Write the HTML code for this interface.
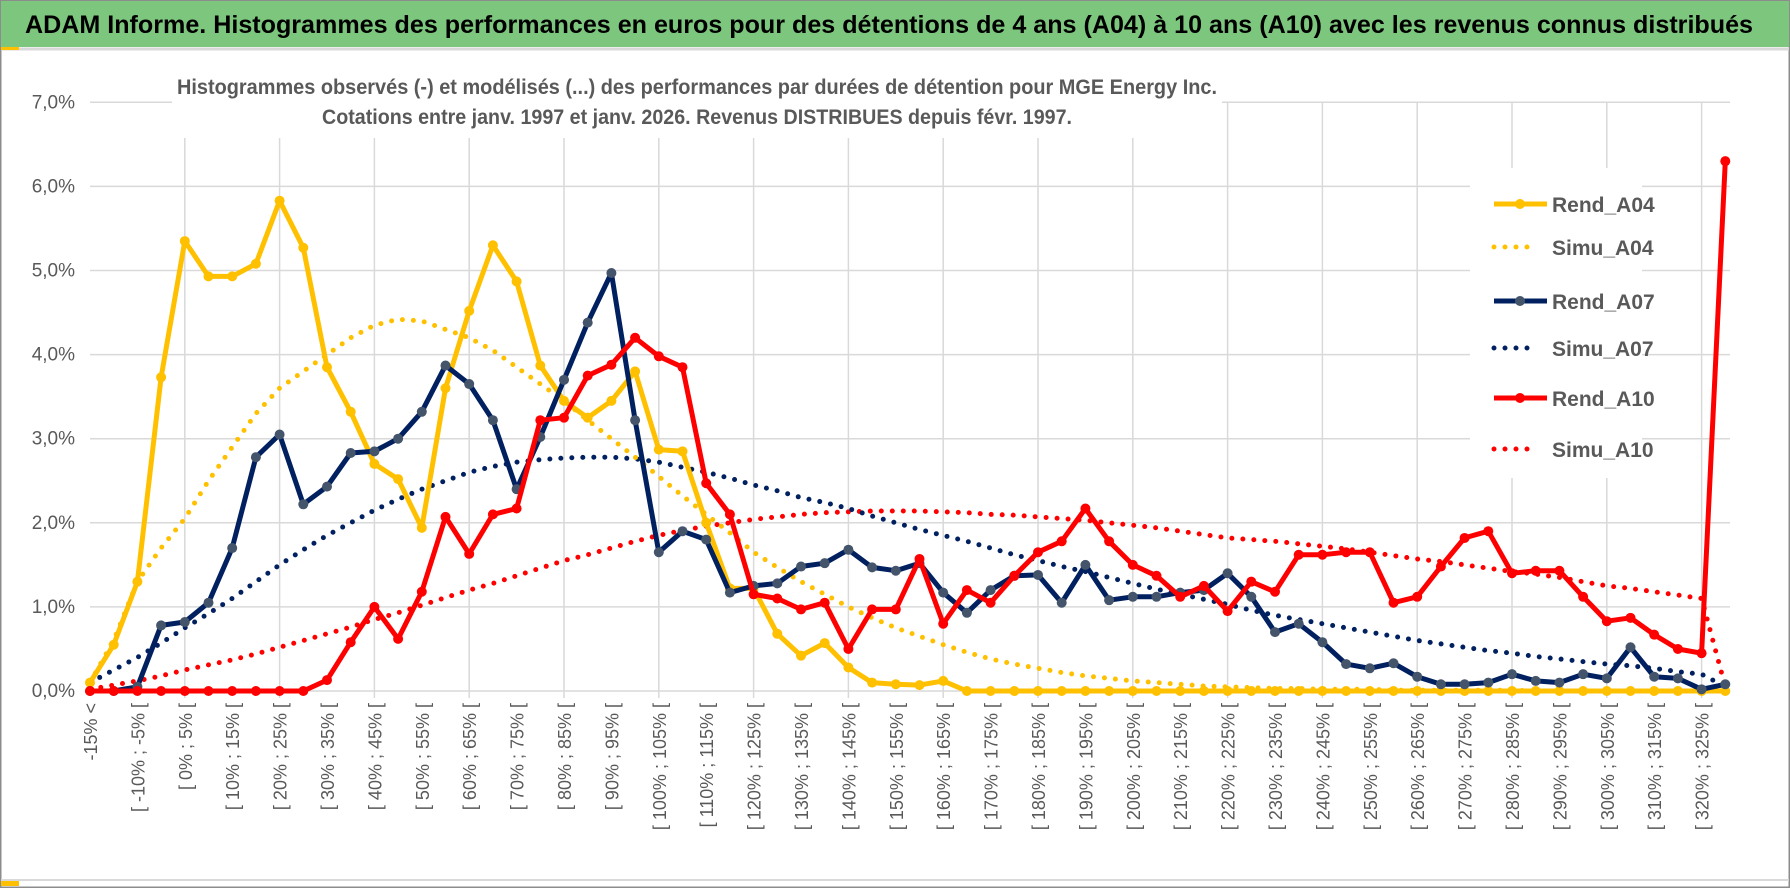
<!DOCTYPE html>
<html><head><meta charset="utf-8"><style>
html,body{margin:0;padding:0;background:#fff}
svg{display:block}
</style></head><body>
<svg id="chart" width="1790" height="888" viewBox="0 0 1790 888" xmlns="http://www.w3.org/2000/svg">
<rect x="0" y="0" width="1790" height="888" fill="#fff"/>
<rect x="0.5" y="0.5" width="1789" height="887" fill="none" stroke="#8c8c8c" stroke-width="2"/>
<rect x="1" y="1" width="1788" height="46" fill="#7dc67d"/>
<line x1="1" y1="49" x2="1789" y2="49" stroke="#d9d9d9" stroke-width="3"/>
<rect x="1" y="47" width="18" height="3" fill="#ffc000"/>
<text x="25" y="33" font-family="'Liberation Sans Narrow','Liberation Sans',sans-serif" font-weight="bold" font-size="25" fill="#000" textLength="1728" lengthAdjust="spacingAndGlyphs">ADAM Informe. Histogrammes des performances en euros pour des détentions de 4 ans (A04) à 10 ans (A10) avec les revenus connus distribués</text>
<line x1="1" y1="880" x2="1789" y2="880" stroke="#d9d9d9" stroke-width="2"/>
<rect x="1" y="881" width="18" height="5" fill="#ffc000"/>
<g id="grid"></g>
<g id="series"></g>
<g id="axes"></g>
<rect x="172" y="68" width="1050" height="70" fill="#fff"/>
<text x="697" y="94" text-anchor="middle" font-family="'Liberation Sans Narrow','Liberation Sans',sans-serif" font-weight="bold" font-size="21" fill="#595959" textLength="1040" lengthAdjust="spacingAndGlyphs">Histogrammes observés (-) et modélisés (...) des performances par durées de détention pour MGE Energy Inc.</text>
<text x="697" y="124" text-anchor="middle" font-family="'Liberation Sans Narrow','Liberation Sans',sans-serif" font-weight="bold" font-size="21" fill="#595959" textLength="750" lengthAdjust="spacingAndGlyphs">Cotations entre janv. 1997 et janv. 2026. Revenus DISTRIBUES depuis févr. 1997.</text>
<g id="legend"></g>
</svg>
<script>
const categories = (function(){const c=["-15% <","[ -15% ; -10% ["];for(let v=-10;v<=325;v+=5){c.push("[ "+v+"% ; "+(v+5)+"% [");}return c.slice(0,70);})();
const yTicks = [0,1,2,3,4,5,6,7];
const yTickLabels = ["0,0%","1,0%","2,0%","3,0%","4,0%","5,0%","6,0%","7,0%"];
const rendA04 = [0.1,0.55,1.3,3.73,5.35,4.93,4.93,5.08,5.83,5.27,3.85,3.32,2.7,2.52,1.94,3.6,4.52,5.3,4.87,3.87,3.45,3.25,3.45,3.8,2.87,2.85,2.0,1.22,1.22,0.68,0.42,0.57,0.28,0.1,0.08,0.07,0.12,0,0,0,0,0,0,0,0,0,0,0,0,0,0,0,0,0,0,0,0,0,0,0,0,0,0,0,0,0,0,0,0,0];
const simuA04 = [0.1,0.6,1.3,1.7,2.05,2.5,2.9,3.3,3.6,3.8,4.0,4.2,4.35,4.42,4.4,4.3,4.2,4.05,3.85,3.65,3.45,3.22,3.0,2.78,2.55,2.32,2.1,1.88,1.65,1.47,1.3,1.15,1.0,0.87,0.75,0.65,0.55,0.46,0.38,0.32,0.27,0.22,0.18,0.15,0.12,0.1,0.08,0.06,0.05,0.04,0.03,0.03,0.02,0.02,0.02,0.01,0.01,0.01,0.01,0.01,0.01,0,0,0,0,0,0,0,0,0];
const rendA07 = [0,0,0.05,0.78,0.82,1.05,1.7,2.78,3.05,2.22,2.43,2.83,2.85,3.0,3.32,3.87,3.65,3.22,2.4,3.02,3.7,4.38,4.97,3.22,1.65,1.9,1.8,1.17,1.25,1.28,1.48,1.52,1.68,1.47,1.43,1.52,1.17,0.93,1.2,1.37,1.38,1.05,1.5,1.08,1.12,1.12,1.17,1.2,1.4,1.12,0.7,0.8,0.58,0.32,0.27,0.33,0.17,0.08,0.08,0.1,0.2,0.12,0.1,0.2,0.15,0.52,0.17,0.15,0.02,0.08];
const simuA07 = [0.1,0.25,0.4,0.57,0.75,0.92,1.1,1.3,1.5,1.68,1.85,2.0,2.15,2.28,2.4,2.5,2.6,2.67,2.72,2.75,2.77,2.78,2.78,2.76,2.72,2.66,2.6,2.53,2.45,2.38,2.3,2.24,2.17,2.08,2.0,1.92,1.85,1.78,1.7,1.62,1.55,1.48,1.42,1.35,1.28,1.21,1.15,1.09,1.03,0.96,0.9,0.85,0.8,0.75,0.7,0.65,0.6,0.56,0.52,0.48,0.45,0.41,0.38,0.35,0.32,0.3,0.27,0.23,0.2,0.05];
const rendA10 = [0,0,0,0,0,0,0,0,0,0,0.13,0.58,1.0,0.62,1.18,2.07,1.63,2.1,2.17,3.22,3.25,3.75,3.88,4.2,3.98,3.85,2.47,2.1,1.15,1.1,0.97,1.05,0.5,0.97,0.97,1.57,0.8,1.2,1.05,1.37,1.65,1.78,2.17,1.78,1.5,1.37,1.12,1.25,0.95,1.3,1.18,1.62,1.62,1.65,1.65,1.05,1.12,1.48,1.82,1.9,1.4,1.43,1.43,1.12,0.83,0.87,0.67,0.5,0.45,6.3];
const simuA10 = [0.02,0.07,0.12,0.18,0.25,0.31,0.37,0.44,0.52,0.6,0.68,0.76,0.85,0.93,1.02,1.11,1.2,1.28,1.37,1.46,1.55,1.62,1.7,1.78,1.85,1.91,1.96,2.0,2.04,2.07,2.1,2.12,2.13,2.14,2.14,2.14,2.13,2.12,2.1,2.09,2.07,2.05,2.03,2.0,1.97,1.94,1.9,1.86,1.82,1.8,1.78,1.75,1.72,1.69,1.65,1.61,1.57,1.54,1.5,1.46,1.42,1.39,1.35,1.3,1.25,1.22,1.18,1.14,1.1,0.05];

const NS="http://www.w3.org/2000/svg";
const X0=90, STEP=23.7, Y0=691, YU=84.1, XR=1730;
function xs(i){return X0+STEP*i;}
function ys(v){return Y0-YU*v;}
function mk(tag,attrs,parent){const e=document.createElementNS(NS,tag);for(const k in attrs)e.setAttribute(k,attrs[k]);parent.appendChild(e);return e;}
const grid=document.getElementById('grid'), axes=document.getElementById('axes'), ser=document.getElementById('series'), leg=document.getElementById('legend');

yTicks.forEach((t,k)=>{
  const l=mk('line',{x1:X0,x2:XR,y1:ys(t),y2:ys(t),stroke:'#d9d9d9','stroke-width':1.5},grid);
  
  
  const tx=mk('text',{x:75,y:ys(t)+6,'text-anchor':'end','font-family':"'Liberation Sans Narrow','Liberation Sans',sans-serif",'font-size':19,fill:'#595959'},axes);
  tx.textContent=yTickLabels[k];
  
  
});
for(let i=4;i<categories.length;i+=4){
  const l=mk('line',{x1:xs(i),x2:xs(i),y1:ys(7),y2:Y0+7,stroke:'#d9d9d9','stroke-width':1.5},grid);
  
  
}
categories.forEach((c,i)=>{
  if(i%2===1) return;
  const x=xs(i)+7, y=Y0+12;
  const tx=mk('text',{x:x,y:y,transform:'rotate(-90 '+x+' '+y+')','text-anchor':'end','font-family':"'Liberation Sans','DejaVu Sans',sans-serif",'font-size':18,fill:'#595959'},axes);
  tx.textContent=c;
  
  
});

function pts(arr){return arr.map((v,i)=>xs(i).toFixed(1)+','+ys(v).toFixed(1)).join(' ');}
function dotted(arr,color,name){
  const p=mk('polyline',{points:pts(arr),fill:'none',stroke:color,'stroke-width':5,'stroke-linecap':'round','stroke-dasharray':'0 11'},ser);
  
  
}
function solid(arr,color,mcolor,name){
  const g=mk('g',{},ser);
  
  
  mk('polyline',{points:pts(arr),fill:'none',stroke:color,'stroke-width':5,'stroke-linejoin':'round'},g);
  arr.forEach((v,i)=>{
    const c=mk('circle',{cx:xs(i),cy:ys(v),r:5,fill:mcolor},g);
    
    
  });
}
dotted(simuA10,'#ff0000','simu-a10-line');
dotted(simuA07,'#002060','simu-a07-line');
dotted(simuA04,'#ffc000','simu-a04-line');
solid(rendA04,'#ffc000','#ffc000','rend-a04-line');
solid(rendA07,'#002060','#44546a','rend-a07-line');
solid(rendA10,'#ff0000','#ff0000','rend-a10-line');

const lg=[["Rend_A04",'#ffc000','#ffc000',false,204],["Simu_A04",'#ffc000','',true,247],["Rend_A07",'#002060','#44546a',false,301],["Simu_A07",'#002060','',true,348],["Rend_A10",'#ff0000','#ff0000',false,398],["Simu_A10",'#ff0000','',true,449]];
mk('rect',{x:1470,y:168,width:172,height:310,fill:'#fff'},leg);
lg.forEach(e=>{
  const g=mk('g',{},leg);
  
  
  if(e[3]){mk('line',{x1:1494,x2:1538,y1:e[4],y2:e[4],stroke:e[1],'stroke-width':5,'stroke-linecap':'round','stroke-dasharray':'0 11'},g);}
  else{mk('line',{x1:1494,x2:1547,y1:e[4],y2:e[4],stroke:e[1],'stroke-width':5},g);mk('circle',{cx:1520,cy:e[4],r:5,fill:e[2]},g);}
  const t=mk('text',{x:1552,y:e[4]+8,'font-family':"'Liberation Sans Narrow','Liberation Sans',sans-serif",'font-weight':'bold','font-size':21,fill:'#595959'},g);
  t.textContent=e[0];
});
</script>
</body></html>
